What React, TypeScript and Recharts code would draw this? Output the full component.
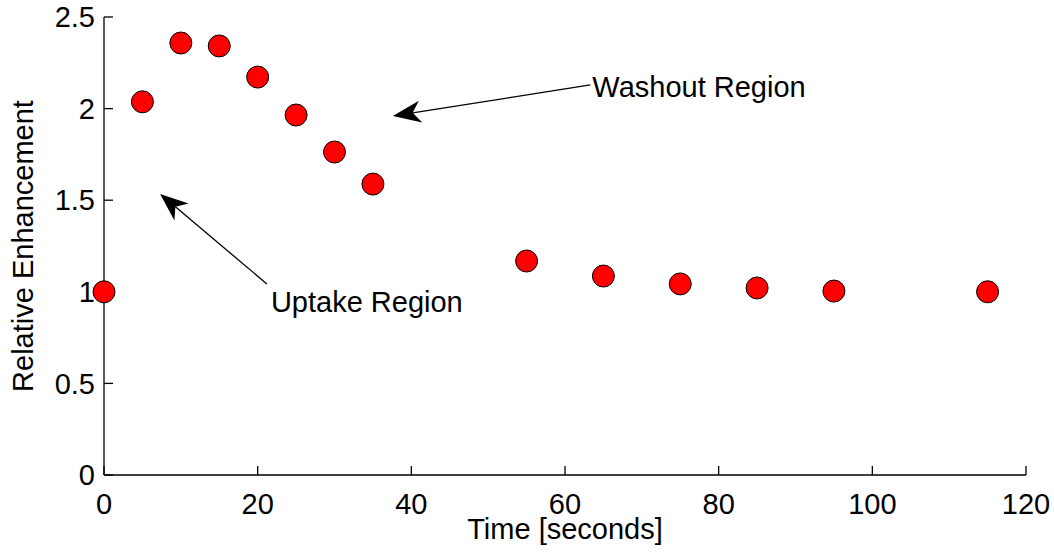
import React from "react";
import {
  ScatterChart,
  Scatter,
  XAxis,
  YAxis,
  ReferenceLine,
} from "recharts";

// time points (seconds) and relative enhancement
const times = [0, 5, 10, 15, 20, 25, 30, 35, 55, 65, 75, 85, 95, 115];
const enhancement = [1.0, 2.037, 2.358, 2.342, 2.172, 1.965, 1.763, 1.588, 1.168, 1.086, 1.043, 1.021, 1.004, 1.0];

const xTicks = [0, 20, 40, 60, 80, 100, 120];
const yTicks = [0, 0.5, 1, 1.5, 2, 2.5];

// annotation arrows: from text end to tip, in data coordinates
const washoutArrow = [{ x: 63.3, y: 2.129 }, { x: 37.6, y: 1.96 }];
const uptakeArrow = [{ x: 21.2, y: 1.043 }, { x: 7.3, y: 1.534 }];

const data = times.map((t, i) => ({ t, v: enhancement[i] }));

const FONT = "'Liberation Sans', Arial, Helvetica, sans-serif";
const FS = 29;
const tickStyle = { fill: "#000", fontSize: FS, fontFamily: FONT };

// line with a filled, notched arrowhead at the second point, plus a text label near the first
const arrowShape = (text: string, dx: number, dy: number) => (props: any) => {
  const { x1, y1, x2, y2 } = props;
  const ang = Math.atan2(y1 - y2, x1 - x2);
  const ux = Math.cos(ang);
  const uy = Math.sin(ang);
  const L = 28;
  const W = 11;
  const N = 20;
  const bx = x2 + ux * L;
  const by = y2 + uy * L;
  const pts = [
    [x2, y2],
    [bx - uy * W, by + ux * W],
    [x2 + ux * N, y2 + uy * N],
    [bx + uy * W, by - ux * W],
  ]
    .map((p) => p.join(","))
    .join(" ");
  return (
    <g>
      <line x1={x1} y1={y1} x2={x2 + ux * N} y2={y2 + uy * N} stroke="#000" strokeWidth={1.3} />
      <polygon points={pts} fill="#000" />
      <text x={x1 + dx} y={y1 + dy} fontSize={FS} fontFamily={FONT} fill="#000">
        {text}
      </text>
    </g>
  );
};

const dot = (p: any) => (
  <circle cx={p.cx} cy={p.cy} r={11} fill="#ff0000" stroke="#000" strokeWidth={1} />
);

export default function App() {
  return (
    <div style={{ position: "absolute", left: 0, top: 0, background: "#fff" }}>
      <ScatterChart
        width={1054}
        height={554}
        margin={{ top: 17, right: 28, bottom: 0, left: 0 }}
        style={{ fontFamily: FONT }}
      >
        <XAxis
          dataKey="t"
          type="number"
          domain={[0, 120]}
          ticks={xTicks}
          interval={0}
          height={79}
          tickSize={-9}
          tickMargin={27}
          tick={tickStyle}
          stroke="#000"
          strokeWidth={1.3}
          label={{
            content: ({ viewBox }: any) => (
              <text
                x={viewBox.x + viewBox.width / 2}
                y={viewBox.y + 64}
                textAnchor="middle"
                fontSize={FS}
                fontFamily={FONT}
                fill="#000"
              >
                Time [seconds]
              </text>
            ),
          }}
        />
        <XAxis
          xAxisId="top"
          orientation="top"
          type="number"
          domain={[0, 120]}
          ticks={xTicks}
          interval={0}
          height={0}
          mirror
          tick={false}
          tickSize={9}
          stroke="#000"
          strokeWidth={1.3}
        />
        <YAxis
          dataKey="v"
          type="number"
          domain={[0, 2.5]}
          ticks={yTicks}
          interval={0}
          width={104}
          tickSize={-9}
          tickMargin={18}
          tick={tickStyle}
          stroke="#000"
          strokeWidth={1.3}
          label={{
            content: ({ viewBox }: any) => {
              const cx = viewBox.x + 33;
              const cy = viewBox.y + viewBox.height / 2;
              return (
                <text
                  x={cx}
                  y={cy}
                  transform={`rotate(-90 ${cx} ${cy})`}
                  textAnchor="middle"
                  fontSize={FS}
                  fontFamily={FONT}
                  fill="#000"
                >
                  Relative Enhancement
                </text>
              );
            },
          }}
        />
        <YAxis
          yAxisId="right"
          orientation="right"
          type="number"
          domain={[0, 2.5]}
          ticks={yTicks}
          interval={0}
          width={0}
          mirror
          tick={false}
          tickSize={9}
          stroke="#000"
          strokeWidth={1.3}
        />
        <ReferenceLine
          segment={washoutArrow}
          ifOverflow="visible"
          shape={arrowShape("Washout Region", 2, 12)}
        />
        <ReferenceLine
          segment={uptakeArrow}
          ifOverflow="visible"
          shape={arrowShape("Uptake Region", 4, 28)}
        />
        <Scatter data={data} shape={dot} isAnimationActive={false} />
      </ScatterChart>
    </div>
  );
}
